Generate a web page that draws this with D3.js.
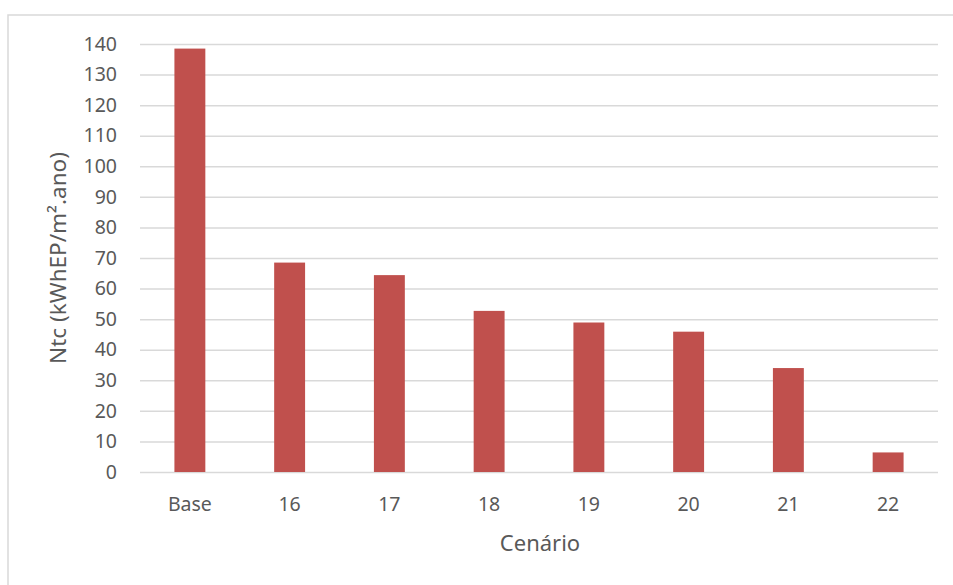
<!DOCTYPE html>
<html><head><meta charset="utf-8">
<script src="https://cdn.jsdelivr.net/npm/d3@7"></script>
<style>body{margin:0;background:#fff}svg{display:block}text{font-family:"Noto Sans",Carlito,Calibri,sans-serif;fill:#595959}</style>
</head><body><svg id="c" width="953" height="585"></svg>
<script>
const categories = ["Base","16","17","18","19","20","21","22"];
const values = [138.5, 68.5, 64.4, 52.7, 48.9, 45.9, 34.0, 6.4];
const yTicks = [0,10,20,30,40,50,60,70,80,90,100,110,120,130,140];
const yTitle = "Ntc (kWhEP/m².ano)";
const xTitle = "Cenário";

const svg = d3.select("#c");
svg.append("rect").attr("x",8).attr("y",15).attr("width",960).attr("height",600)
  .attr("fill","#fff").attr("stroke","#d9d9d9").attr("stroke-width",1.5);
const L=140,R=938,T=44,B=472;
const x = d3.scaleBand().domain(categories).range([L,R]).paddingInner(0.69).paddingOuter(0.345);
const y = d3.scaleLinear().domain([0,140]).range([B,T]);

const ya = svg.append("g").attr("transform",`translate(${L},0)`)
  .call(d3.axisLeft(y).tickValues(yTicks).tickSize(-(R-L)).tickPadding(23));
ya.select(".domain").remove();
ya.selectAll("line").attr("stroke","#d9d9d9").attr("stroke-width",1.5);
ya.selectAll("text").style("font-size","19.5px").attr("fill","#595959");

svg.append("g").selectAll("rect").data(values).join("rect")
  .attr("x",(d,i)=>x(categories[i])).attr("width",x.bandwidth())
  .attr("y",d=>y(d)).attr("height",d=>B-y(d)).attr("fill","#c0504d");

const xa = svg.append("g").attr("transform",`translate(0,${B})`)
  .call(d3.axisBottom(x).tickSize(0).tickPadding(25));
xa.select(".domain").remove();
xa.selectAll("text").style("font-size","19.5px").attr("fill","#595959");

svg.append("text").attr("transform","translate(60,258) rotate(-90)").attr("text-anchor","middle")
  .attr("dominant-baseline","middle").style("font-size","22.5px").text(yTitle);
svg.append("text").attr("x",540).attr("y",545).attr("text-anchor","middle")
  .attr("dominant-baseline","middle").style("font-size","22px").text(xTitle);
</script></body></html>
